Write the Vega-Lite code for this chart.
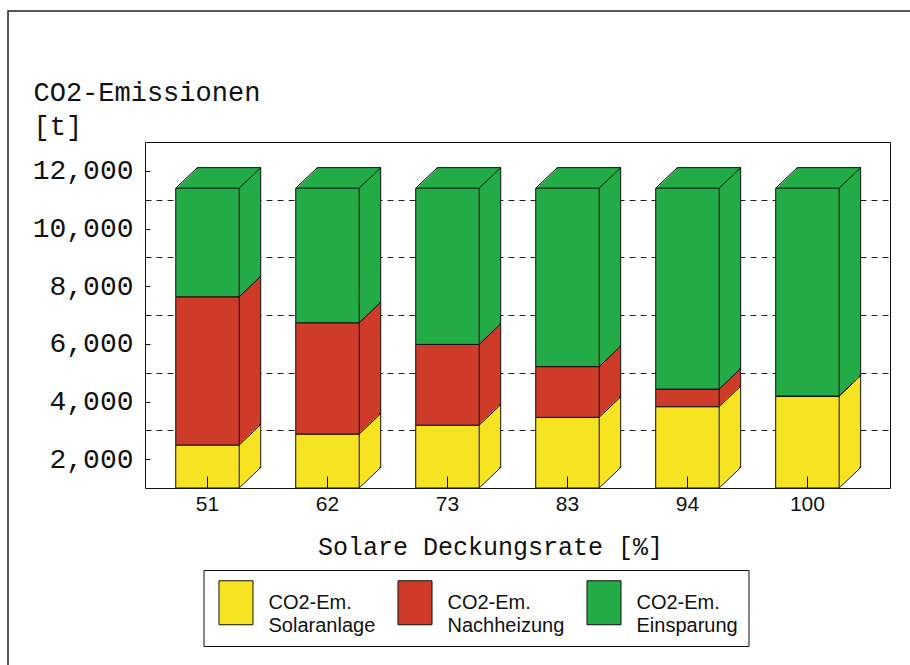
{
  "$schema": "https://vega.github.io/schema/vega-lite/v6.json",
  "width": 905,
  "height": 660,
  "autosize": {"type": "none"},
  "padding": {"left": 8, "top": 11, "right": 0, "bottom": 0},
  "background": "white",
  "config": {
    "view": {"stroke": "#222", "strokeWidth": 1.5},
    "font": "Liberation Sans",
    "style": {"guide-label": {"lineHeight": 23}},
    "legend": {
      "fillColor": "white",
      "strokeColor": "#111",
      "padding": 10,
      "symbolType": "M-0.773,-1H0.773V1H-0.773Z",
      "symbolSize": 1936,
      "symbolStrokeColor": "#111",
      "symbolStrokeWidth": 1,
      "symbolOpacity": 1,
      "labelFont": "Liberation Sans",
      "labelFontSize": 20,
      "labelColor": "#111",
      "labelOffset": 10,
      "labelLimit": 300,
      "columnPadding": 17
    }
  },
  "data": {
    "values": [
      {"Rate": 51, "Art": "Solaranlage", "Wert": 2490},
      {"Rate": 51, "Art": "Nachheizung", "Wert": 5140},
      {"Rate": 51, "Art": "Einsparung", "Wert": 3770},
      {"Rate": 62, "Art": "Solaranlage", "Wert": 2870},
      {"Rate": 62, "Art": "Nachheizung", "Wert": 3860},
      {"Rate": 62, "Art": "Einsparung", "Wert": 4670},
      {"Rate": 73, "Art": "Solaranlage", "Wert": 3180},
      {"Rate": 73, "Art": "Nachheizung", "Wert": 2800},
      {"Rate": 73, "Art": "Einsparung", "Wert": 5420},
      {"Rate": 83, "Art": "Solaranlage", "Wert": 3450},
      {"Rate": 83, "Art": "Nachheizung", "Wert": 1760},
      {"Rate": 83, "Art": "Einsparung", "Wert": 6190},
      {"Rate": 94, "Art": "Solaranlage", "Wert": 3820},
      {"Rate": 94, "Art": "Nachheizung", "Wert": 610},
      {"Rate": 94, "Art": "Einsparung", "Wert": 6970},
      {"Rate": 100, "Art": "Solaranlage", "Wert": 4190},
      {"Rate": 100, "Art": "Nachheizung", "Wert": 0},
      {"Rate": 100, "Art": "Einsparung", "Wert": 7210}
    ]
  },
  "transform": [
    {"stack": "Wert", "groupby": ["Rate"], "sort": [{"field": "Art", "order": "descending"}], "as": ["y0", "y1"]}
  ],
  "encoding": {
    "x": {
      "field": "Rate", "type": "ordinal", "axis": null,
      "scale": {"range": [137, 882], "paddingInner": 0.471, "paddingOuter": 0.34, "align": 0.377}
    },
    "y": {
      "field": "y1", "type": "quantitative", "axis": null,
      "scale": {"domain": [1000, 13000], "range": [477, 131], "clamp": true, "nice": false, "zero": false}
    },
    "y2": {"field": "y0"},
    "color": {
      "field": "Art", "type": "nominal",
      "scale": {"domain": ["Solaranlage", "Nachheizung", "Einsparung"], "range": ["#F6E322", "#CE3B29", "#23AB47"]}
    }
  },
  "layer": [
    {
      "mark": {"type": "bar", "xOffset": 21.5, "yOffset": -20.5, "y2Offset": -20.5, "stroke": "#111", "strokeWidth": 1},
      "encoding": {
        "x": {
          "field": "Rate", "type": "ordinal",
          "axis": {"orient": "top", "offset": -131, "labels": false, "ticks": false, "grid": false, "title": null, "domainColor": "#111", "zindex": 1}
        },
        "y": {
          "field": "y1", "type": "quantitative",
          "axis": {"orient": "right", "offset": -23, "labels": false, "ticks": false, "grid": false, "title": null, "domainColor": "#111", "zindex": 1}
        }
      }
    },
    {"mark": {"type": "bar", "xOffset": 20.07, "yOffset": -19.13, "y2Offset": -19.13, "strokeWidth": 0}},
    {"mark": {"type": "bar", "xOffset": 18.63, "yOffset": -17.77, "y2Offset": -17.77, "strokeWidth": 0}},
    {"mark": {"type": "bar", "xOffset": 17.2, "yOffset": -16.4, "y2Offset": -16.4, "strokeWidth": 0}},
    {"mark": {"type": "bar", "xOffset": 15.77, "yOffset": -15.03, "y2Offset": -15.03, "strokeWidth": 0}},
    {"mark": {"type": "bar", "xOffset": 14.33, "yOffset": -13.67, "y2Offset": -13.67, "strokeWidth": 0}},
    {"mark": {"type": "bar", "xOffset": 12.9, "yOffset": -12.3, "y2Offset": -12.3, "strokeWidth": 0}},
    {"mark": {"type": "bar", "xOffset": 11.47, "yOffset": -10.93, "y2Offset": -10.93, "strokeWidth": 0}},
    {"mark": {"type": "bar", "xOffset": 10.03, "yOffset": -9.57, "y2Offset": -9.57, "strokeWidth": 0}},
    {"mark": {"type": "bar", "xOffset": 8.6, "yOffset": -8.2, "y2Offset": -8.2, "strokeWidth": 0}},
    {"mark": {"type": "bar", "xOffset": 7.17, "yOffset": -6.83, "y2Offset": -6.83, "strokeWidth": 0}},
    {"mark": {"type": "bar", "xOffset": 5.73, "yOffset": -5.47, "y2Offset": -5.47, "strokeWidth": 0}},
    {"mark": {"type": "bar", "xOffset": 4.3, "yOffset": -4.1, "y2Offset": -4.1, "strokeWidth": 0}},
    {"mark": {"type": "bar", "xOffset": 2.87, "yOffset": -2.73, "y2Offset": -2.73, "strokeWidth": 0}},
    {"mark": {"type": "bar", "xOffset": 1.43, "yOffset": -1.37, "y2Offset": -1.37, "strokeWidth": 0}},
    {
      "mark": {"type": "rule", "x2Offset": 21.5, "y2Offset": -20.5, "strokeWidth": 1},
      "encoding": {
        "x": {"field": "Rate", "type": "ordinal", "bandPosition": 1, "axis": null},
        "x2": {"field": "Rate", "bandPosition": 1},
        "y2": {"field": "y1"},
        "color": {"value": "#111"}
      }
    },
    {
      "transform": [{"filter": "datum.Art === 'Solaranlage'"}],
      "mark": {"type": "rule", "x2Offset": 21.5, "y2Offset": -20.5, "strokeWidth": 1},
      "encoding": {
        "x": {"field": "Rate", "type": "ordinal", "bandPosition": 1, "axis": null},
        "x2": {"field": "Rate", "bandPosition": 1},
        "y": {"field": "y0", "type": "quantitative", "axis": null},
        "y2": {"field": "y0"},
        "color": {"value": "#111"}
      }
    },
    {
      "transform": [{"filter": "datum.Art === 'Einsparung'"}],
      "mark": {"type": "rule", "x2Offset": 21.5, "y2Offset": -20.5, "strokeWidth": 1},
      "encoding": {
        "x": {"field": "Rate", "type": "ordinal", "bandPosition": 0, "axis": null},
        "x2": {"field": "Rate", "bandPosition": 0},
        "y2": {"field": "y1"},
        "color": {"value": "#111"}
      }
    },
    {
      "mark": {"type": "bar", "stroke": "#111", "strokeWidth": 1},
      "encoding": {
        "x": {
          "field": "Rate", "type": "ordinal",
          "axis": {
            "orient": "bottom", "offset": -183, "zindex": 1, "grid": false,
            "labelAngle": 0, "labelFont": "Liberation Sans", "labelFontSize": 21, "labelColor": "#111",
            "labelBaseline": "top", "labelPadding": 17,
            "tickSize": -12, "tickColor": "#111", "domainColor": "#111",
            "title": "Solare Deckungsrate [%]", "titleFont": "Liberation Mono", "titleFontSize": 25,
            "titleFontWeight": "normal", "titleColor": "#111",
            "titleX": 482, "titleY": 66, "titleAlign": "center", "titleBaseline": "alphabetic"
          }
        },
        "y": {
          "field": "y1", "type": "quantitative",
          "axis": {
            "orient": "left", "offset": -137, "zindex": 0,
            "values": [2000, 3000, 4000, 5000, 6000, 7000, 8000, 9000, 10000, 11000, 12000],
            "labelExpr": "datum.value % 2000 === 0 ? format(datum.value, ',') : ''",
            "labelOverlap": false, "labelFont": "Liberation Mono", "labelFontSize": 28, "labelColor": "#111",
            "labelPadding": 17, "labelBaseline": "middle",
            "tickSize": -5, "tickColor": "#111", "domainColor": "#111",
            "grid": true, "gridColor": "#222", "gridWidth": 1, "gridDash": [6, 5],
            "gridOpacity": {"condition": {"test": "datum.value % 2000 === 1000", "value": 1}, "value": 0},
            "title": ["CO2-Emissionen", "[t]"], "titleFont": "Liberation Mono", "titleFontSize": 27,
            "titleFontWeight": "normal", "titleColor": "#111", "titleAngle": 0,
            "titleAlign": "left", "titleBaseline": "alphabetic", "titleX": -112, "titleY": 89, "titleLineHeight": 34
          }
        },
        "color": {
          "field": "Art", "type": "nominal",
          "legend": {
            "orient": "none", "legendX": 195.5, "legendY": 559, "direction": "horizontal", "columns": 3,
            "title": null, "labelExpr": "['CO2-Em.', datum.label]"
          }
        }
      }
    }
  ],
  "resolve": {"axis": {"x": "independent", "y": "independent"}}
}
